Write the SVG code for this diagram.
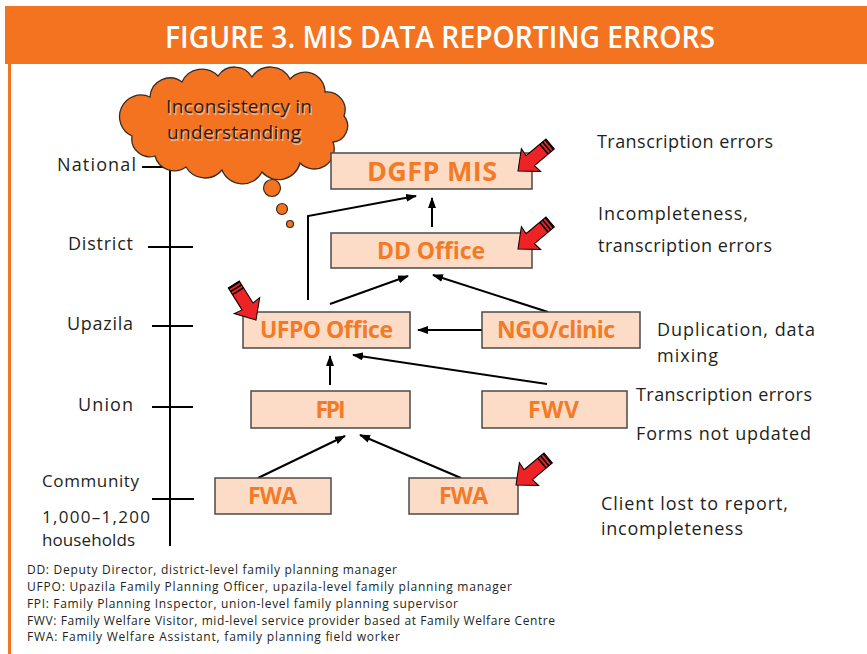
<svg xmlns="http://www.w3.org/2000/svg" width="867" height="654" viewBox="0 0 867 654">
<style>
.box{fill:#FCDCC6;stroke:#4a4a4a;stroke-width:1.5}
.bl{font-family:"Open Sans","Liberation Sans",sans-serif;font-weight:700;fill:#F37A26;text-anchor:middle}
.t{font-family:"Open Sans","Liberation Sans",sans-serif;fill:#231F20;font-size:18px}
.fn{font-family:"Open Sans","Liberation Sans",sans-serif;fill:#231F20;font-size:12px}
.c{stroke:#000;stroke-width:2;fill:none}
.ax{stroke:#000;stroke-width:2;fill:none}
.ra{fill:#EE2326;stroke:#000;stroke-width:1;stroke-linejoin:miter}
</style>
<defs>
<marker id="ah" markerUnits="userSpaceOnUse" markerWidth="11" markerHeight="8" refX="10" refY="4" orient="auto">
<path d="M0,0 L11,4 L0,8 Z" fill="#000"/>
</marker>
<g id="red">
<path class="ra" d="M0,0 L-17,-15 L-16,-6.5 L-42,-6.5 L-42,6.5 L-16,6.5 L-17,15 Z"/>
<path d="M-34,-6.5 L-34,6.5 M-37.5,-6.5 L-37.5,6.5 M-41,-6.5 L-41,6.5" stroke="#000" stroke-width="1.6"/>
</g>
</defs>

<rect x="5" y="6" width="862" height="58" fill="#F37321"/>
<line x1="9.5" y1="62" x2="9.5" y2="654" stroke="#F37321" stroke-width="3"/>
<text x="440" y="48" font-family="'Open Sans','Liberation Sans',sans-serif" font-weight="600" font-size="30" fill="#fff" text-anchor="middle" textLength="550" lengthAdjust="spacingAndGlyphs">FIGURE 3. MIS DATA REPORTING ERRORS</text>

<g id="axis">
<line class="ax" x1="170" y1="167" x2="170" y2="546"/>
<line class="ax" x1="142" y1="167" x2="172" y2="167"/>
<line class="ax" x1="148" y1="247" x2="193" y2="247"/>
<line class="ax" x1="152" y1="326" x2="193" y2="326"/>
<line class="ax" x1="152" y1="407" x2="193" y2="407"/>
<line class="ax" x1="152" y1="499" x2="194" y2="499"/>
<text class="t" x="136" y="171" text-anchor="end" textLength="79">National</text>
<text class="t" x="133" y="250" text-anchor="end" textLength="65">District</text>
<text class="t" x="133" y="330" text-anchor="end" textLength="66">Upazila</text>
<text class="t" x="133" y="411" text-anchor="end" textLength="55">Union</text>
<text class="t" x="42" y="487" style="font-size:17px" textLength="97">Community</text>
<text class="t" x="42" y="523" style="font-size:17px" textLength="108">1,000–1,200</text>
<text class="t" x="42" y="546" style="font-size:17px" textLength="93">households</text>
</g>

<g id="cloud">
<path d="M150,97 A20,20 0 0 1 182,82 A22,22 0 0 1 218,76 A20,20 0 0 1 252,77 A22,22 0 0 1 290,79 A20,20 0 0 1 325,92 A18,18 0 0 1 344,116 A16,16 0 0 1 333,142 A20,20 0 0 1 300,163 A22,22 0 0 1 262,172 A22,22 0 0 1 222,170 A22,22 0 0 1 186,167 A20,20 0 0 1 155,156 A18,18 0 0 1 132,136 A18,18 0 0 1 150,97 Z" fill="#F37321" stroke="#3a2a20" stroke-width="1.3"/>
<circle cx="272" cy="188" r="8.5" fill="#F37321" stroke="#3a2a20" stroke-width="1.2"/>
<circle cx="282" cy="209" r="5.5" fill="#F37321" stroke="#3a2a20" stroke-width="1.2"/>
<circle cx="290" cy="224" r="3.5" fill="#F37321" stroke="#3a2a20" stroke-width="1.2"/>
<text class="t" x="240.5" y="114.5" style="font-size:19px;fill:#f7b58a" text-anchor="middle" textLength="146">Inconsistency in</text>
<text class="t" x="235.5" y="140.5" style="font-size:19px;fill:#f7b58a" text-anchor="middle" textLength="134">understanding</text>
<text class="t" x="239" y="113" style="font-size:19px" text-anchor="middle" textLength="146">Inconsistency in</text>
<text class="t" x="234" y="139" style="font-size:19px" text-anchor="middle" textLength="134">understanding</text>
</g>

<g id="connectors">
<line class="c" x1="432" y1="227" x2="432" y2="198" marker-end="url(#ah)"/>
<polyline class="c" points="308,300 308,216 416,196" marker-end="url(#ah)"/>
<line class="c" x1="330" y1="304" x2="408" y2="276" marker-end="url(#ah)"/>
<line class="c" x1="548" y1="312" x2="433" y2="275" marker-end="url(#ah)"/>
<line class="c" x1="482" y1="330" x2="418" y2="330" marker-end="url(#ah)"/>
<line class="c" x1="330" y1="385" x2="330" y2="356" marker-end="url(#ah)"/>
<line class="c" x1="547" y1="384" x2="353" y2="355" marker-end="url(#ah)"/>
<line class="c" x1="258" y1="478" x2="345" y2="436" marker-end="url(#ah)"/>
<line class="c" x1="461" y1="478" x2="360" y2="435" marker-end="url(#ah)"/>
</g>

<g id="dgfp">
<rect class="box" x="331" y="153" width="201" height="36"/>
<text class="bl" x="432" y="181" font-size="27" textLength="130">DGFP MIS</text>
</g>
<g id="dd">
<rect class="box" x="331" y="233" width="201" height="35"/>
<text class="bl" x="431" y="259" font-size="23" textLength="108">DD Office</text>
</g>
<g id="ufpo">
<rect class="box" x="243" y="312" width="167" height="36"/>
<text class="bl" x="326.5" y="338" font-size="23" textLength="133">UFPO Office</text>
</g>
<g id="ngo">
<rect class="box" x="482" y="312" width="158" height="36"/>
<text class="bl" x="556" y="338" font-size="23" textLength="118">NGO/clinic</text>
</g>
<g id="fpi">
<rect class="box" x="251" y="391" width="159" height="37"/>
<text class="bl" x="330.5" y="418" font-size="23" textLength="30">FPI</text>
</g>
<g id="fwv">
<rect class="box" x="482" y="391" width="145" height="37"/>
<text class="bl" x="553.5" y="418" font-size="23" textLength="51">FWV</text>
</g>
<g id="fwa1">
<rect class="box" x="215" y="478" width="116" height="36"/>
<text class="bl" x="272.5" y="504" font-size="23" textLength="49">FWA</text>
</g>
<g id="fwa2">
<rect class="box" x="409" y="478" width="109" height="36"/>
<text class="bl" x="463.5" y="504" font-size="23" textLength="49">FWA</text>
</g>

<g id="red-arrows">
<use href="#red" transform="translate(518,171) rotate(140)"/>
<use href="#red" transform="translate(518,249) rotate(140)"/>
<use href="#red" transform="translate(256,320) rotate(58)"/>
<use href="#red" transform="translate(516,485) rotate(140)"/>
</g>

<g id="notes">
<text class="t" x="597" y="148" textLength="176">Transcription errors</text>
<text class="t" x="598" y="220" textLength="150">Incompleteness,</text>
<text class="t" x="598" y="252" textLength="174">transcription errors</text>
<text class="t" x="657" y="336" textLength="158">Duplication, data</text>
<text class="t" x="657" y="362" textLength="61">mixing</text>
<text class="t" x="636" y="401" textLength="176">Transcription errors</text>
<text class="t" x="636" y="440" textLength="175">Forms not updated</text>
<text class="t" x="601" y="510" textLength="187">Client lost to report,</text>
<text class="t" x="601" y="535" textLength="142">incompleteness</text>
</g>

<g id="footnotes">
<text class="fn" x="27" y="574" textLength="370">DD: Deputy Director, district-level family planning manager</text>
<text class="fn" x="27" y="591" textLength="485">UFPO: Upazila Family Planning Officer, upazila-level family planning manager</text>
<text class="fn" x="27" y="608" textLength="431">FPI: Family Planning Inspector, union-level family planning supervisor</text>
<text class="fn" x="27" y="625" textLength="528">FWV: Family Welfare Visitor, mid-level service provider based at Family Welfare Centre</text>
<text class="fn" x="27" y="641" textLength="373">FWA: Family Welfare Assistant, family planning field worker</text>
</g>
</svg>
